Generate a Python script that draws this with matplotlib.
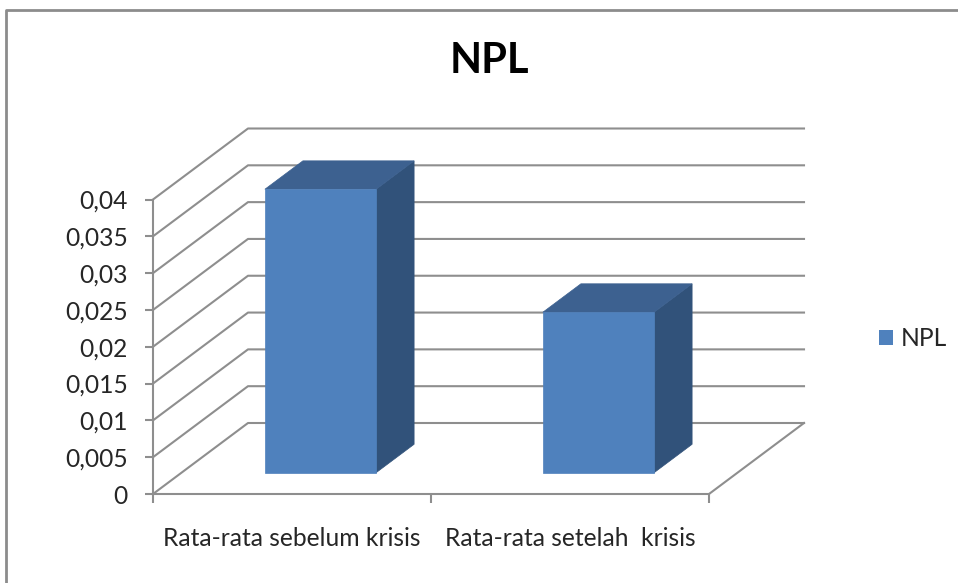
import matplotlib
matplotlib.use('Agg')
import matplotlib.pyplot as plt
from matplotlib.lines import Line2D
from matplotlib.patches import Patch, Polygon

categories = ['Rata-rata sebelum krisis', 'Rata-rata setelah  krisis']
npl_values = [0.0385, 0.0218]
y_ticks = [0, 0.005, 0.01, 0.015, 0.02, 0.025, 0.03, 0.035, 0.04]
y_tick_labels = ['0', '0,005', '0,01', '0,015', '0,02', '0,025', '0,03', '0,035', '0,04']

GRID = '#8E8E8E'
FRONT = '#4F81BD'
SIDE = '#31527A'
TOP = '#3D6190'
TEXT = '#262626'

WIDTH, HEIGHT = 958, 583
# oblique depth of the 3d box, in data units
DEPTH_X = 95 / 278
DEPTH_Y = 0.04 * 71 / 294.5
BAR_FROM, BAR_TO = 0.3, 0.7


def project(x, v, d):
    return (x + d * DEPTH_X, v + d * DEPTH_Y)


plt.rcParams['font.family'] = ['Lato', 'DejaVu Sans']

fig = plt.figure(figsize=(WIDTH / 100, HEIGHT / 100), dpi=100)
ax = fig.add_axes([153 / WIDTH, 1 - 494 / HEIGHT, 556 / WIDTH, 294.5 / HEIGHT])
ax.set_xlim(0, len(categories))
ax.set_ylim(0, 0.04)
ax.patch.set_alpha(0)

# chart frame, open on the right and at the bottom
fig.add_artist(Line2D([6 / WIDTH, 6 / WIDTH, 1], [0, 1 - 9.5 / HEIGHT, 1 - 9.5 / HEIGHT],
                      color='#8C8C8C', lw=2, transform=fig.transFigure))

# gridlines run along the left wall and the back wall
for v in y_ticks:
    pts = [project(0, v, 0), project(0, v, 1), project(len(categories), v, 1)]
    ax.plot(*zip(*pts), color=GRID, lw=1.5, clip_on=False, zorder=1)
floor_edge = [project(len(categories), 0, 0), project(len(categories), 0, 1)]
ax.plot(*zip(*floor_edge), color=GRID, lw=1.5, clip_on=False, zorder=1)

for i, value in enumerate(npl_values):
    x0, x1 = i + BAR_FROM, i + BAR_TO
    a = BAR_FROM
    b = BAR_TO
    side = [project(x1, 0, a), project(x1, 0, b), project(x1, value, b), project(x1, value, a)]
    top = [project(x0, value, a), project(x1, value, a), project(x1, value, b), project(x0, value, b)]
    front = [project(x0, 0, a), project(x1, 0, a), project(x1, value, a), project(x0, value, a)]
    for face, color in ((side, SIDE), (top, TOP), (front, FRONT)):
        ax.add_patch(Polygon(face, closed=True, facecolor=color, edgecolor=color, lw=0.5,
                             clip_on=False, zorder=3))

for name in ('top', 'right'):
    ax.spines[name].set_visible(False)
for name in ('left', 'bottom'):
    ax.spines[name].set_color(GRID)
    ax.spines[name].set_linewidth(1.5)

ax.set_yticks(y_ticks)
ax.set_yticklabels(y_tick_labels)
ax.set_xticks(range(len(categories) + 1))
ax.set_xticklabels([])
ax.set_xticks([i + 0.5 for i in range(len(categories))], minor=True)
ax.set_xticklabels(categories, minor=True)
ax.tick_params(axis='y', length=6, width=1.5, color=GRID, labelsize=17.7, labelcolor=TEXT, pad=12)
ax.tick_params(axis='x', which='major', length=6.5, width=1.5, color=GRID)
ax.tick_params(axis='x', which='minor', length=0, labelsize=17.7, labelcolor=TEXT, pad=24)

fig.text(489 / WIDTH, 1 - 61 / HEIGHT, 'NPL', fontsize=30, fontweight='bold', color='black',
         ha='center', va='center')

fig.legend(handles=[Patch(facecolor=FRONT, label='NPL')], loc='center left',
           bbox_to_anchor=(857 / WIDTH, 1 - 339 / HEIGHT), frameon=False, fontsize=17.7,
           labelcolor=TEXT, handlelength=0.57, handleheight=0.57, handletextpad=0.32)

fig.savefig('out.png', dpi=100, facecolor='white')
